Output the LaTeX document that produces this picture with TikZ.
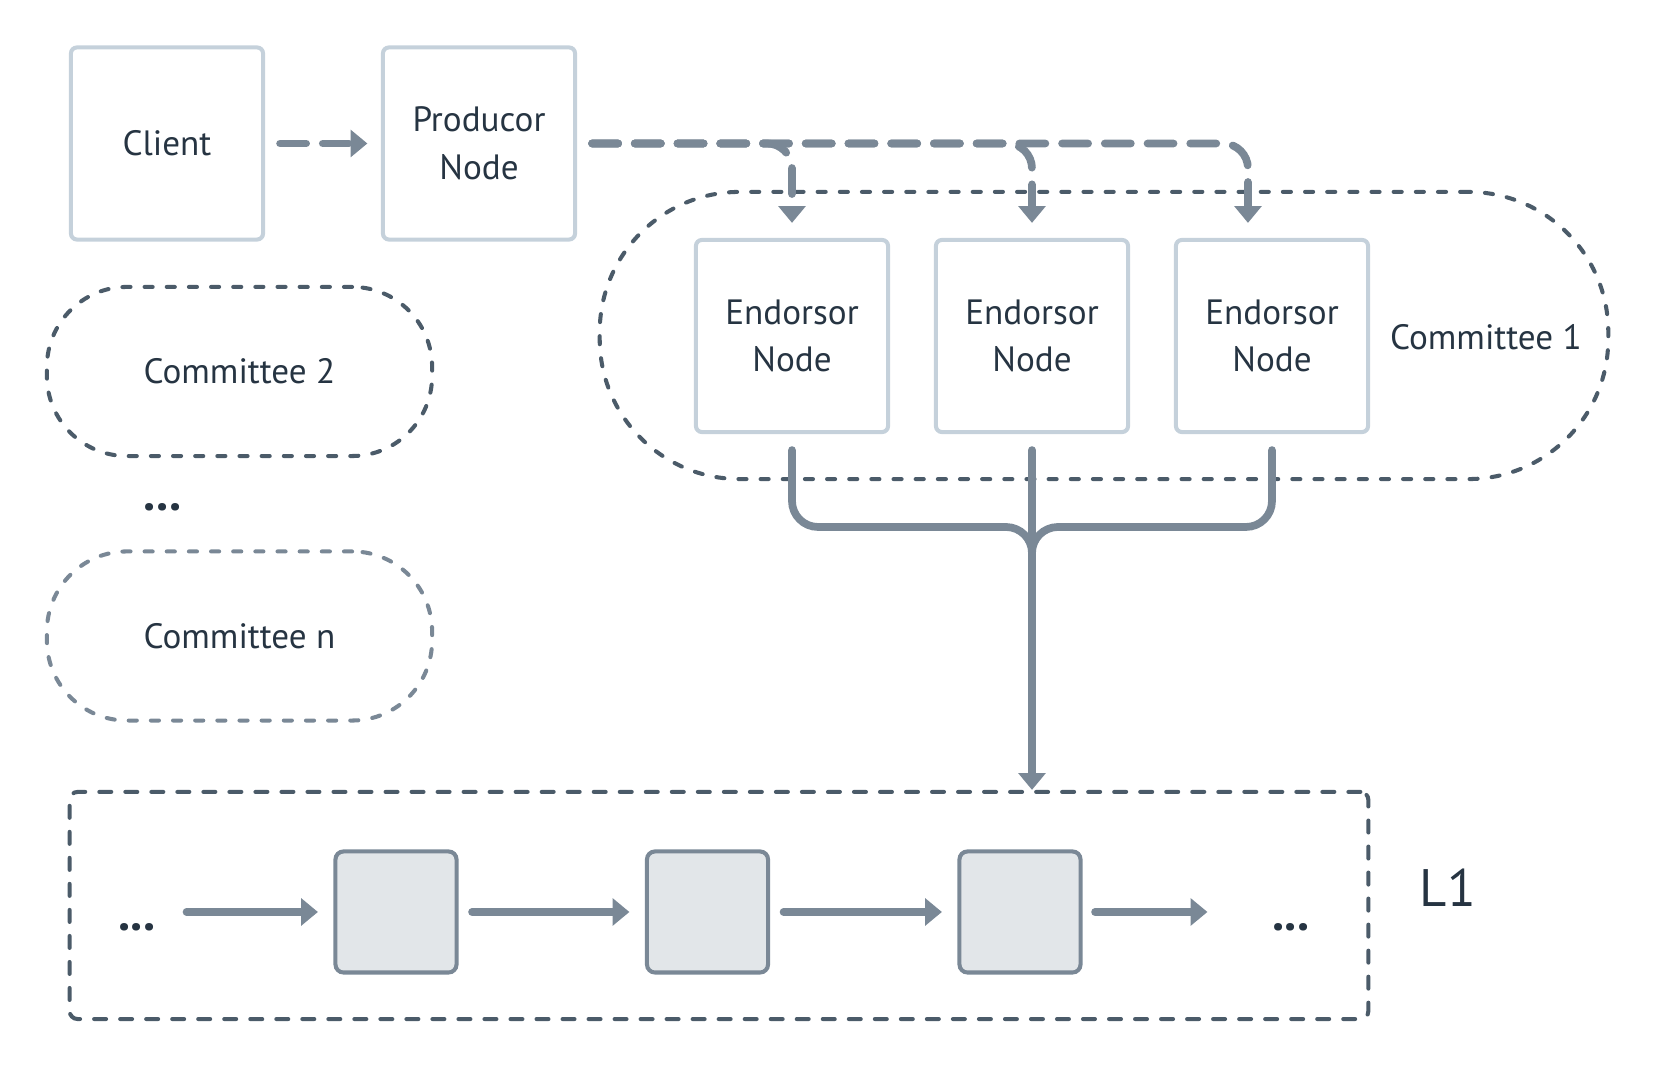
\documentclass[tikz,border=0pt]{standalone}
\usepackage{fontspec}
\setmainfont{PT Sans}
\newcommand*{\boxfont}{\fontsize{10}{13.6}\selectfont}
\definecolor{N}{HTML}{263442}
\definecolor{A}{HTML}{7A8896}
\definecolor{B}{HTML}{C5D1DB}
\definecolor{D}{HTML}{4B5B69}
\definecolor{F}{HTML}{E2E6E9}
\usetikzlibrary{arrows.meta}
\usetikzlibrary{positioning}
\tikzstyle{base}=[x=0.01cm, y=-0.01cm, line cap=round, text=N, font=\boxfont]
\tikzstyle{nodebox}=[draw=B, line width=1.15pt, rounded corners=0.06cm, minimum width=1.92cm, minimum height=1.92cm, align=center, inner sep=0pt]
\tikzstyle{committee}=[draw=D, line width=1.15pt, dash pattern=on 2.3pt off 4pt]
\tikzstyle{blockbox}=[draw=A, fill=F, line width=1.15pt, rounded corners=0.08cm, minimum width=1.21cm, minimum height=1.21cm, inner sep=0pt]
\tikzstyle{flow}=[draw=A, line width=2.2pt, -{Triangle[length=4.8pt, width=7.6pt]}]
\tikzstyle{dashflow}=[flow, dash pattern=on 7.4pt off 4.75pt, rounded corners=0.25cm]
\tikzstyle{mergeline}=[draw=A, line width=2.2pt, rounded corners=0.26cm]
\tikzstyle{dots}=[font=\fontsize{14}{14}\selectfont\bfseries, inner sep=0pt, anchor=base]

\begin{document}
\begin{tikzpicture}[base]
    \useasboundingbox (0,0) rectangle (1656,1068);
    \node [nodebox] (client) at (167,143.5) {Client};
    \node [nodebox] (prod) at (479,143.5) {Producor\\Node};
    \node [committee, rounded corners=1.4cm, minimum width=10.08cm, minimum height=2.87cm] (com1) at (1104,335.5) {};
    \node [nodebox] (e1) at (792,336) {Endorsor\\Node};
    \node [nodebox] (e2) at (1032,336) {Endorsor\\Node};
    \node [nodebox] (e3) at (1272,336) {Endorsor\\Node};
    \node (com1label) at (1486,337) {Committee 1};
    \node [committee, rounded corners=0.8cm, minimum width=3.85cm, minimum height=1.69cm] (com2) at (239.5,371.5) {Committee 2};
    \node [dots] (morecom) at (162.5,511) {...};
    \node [committee, draw=A, rounded corners=0.8cm, minimum width=3.85cm, minimum height=1.69cm] (comn) at (239.5,636) {Committee n};
    \node [committee, dash pattern=on 3.4pt off 4pt, rounded corners=0.08cm, minimum width=12.98cm, minimum height=2.27cm] (chain) at (719,905.5) {};
    \node [font=\fontsize{15}{15}\selectfont] (l1) at (1448,888) {L1};
    \node [blockbox] (b1) at (396,912) {};
    \node [blockbox] (b2) at (707.5,912) {};
    \node [blockbox] (b3) at (1020,912) {};
    \node [dots] (dotsL) at (137,931) {...};
    \node [dots] (dotsR) at (1291,931) {...};

    \draw [dashflow, shorten <=0.15cm, shorten >=0.135cm] (client) -- (prod);
    \coordinate (e3in) at ([xshift=-0.24cm]e3.north);
    \draw [dashflow, shorten <=0.15cm, shorten >=0.15cm] (prod.east) -| (e1.north);
    \draw [dashflow, shorten <=0.15cm, shorten >=0.15cm] (prod.east) -| (e2.north);
    \draw [dashflow, shorten <=0.15cm, shorten >=0.15cm] (prod.east) -| (e3in);

    \coordinate (bus) at (1032,527);
    \coordinate (drop) at (1032,640);
    \coordinate (chainin) at (e2.south |- chain.north);
    \draw [mergeline, shorten <=0.16cm] (e1.south) |- (bus) -- (drop);
    \draw [mergeline, shorten <=0.16cm] (e3.south) |- (bus) -- (drop);
    \draw [flow, shorten <=0.16cm] (e2.south) -- (chainin);

    \draw [flow, shorten <=0.3cm, shorten >=0.155cm] (dotsL.east |- b1.west) -- (b1.west);
    \draw [flow, shorten <=0.135cm, shorten >=0.155cm] (b1) -- (b2);
    \draw [flow, shorten <=0.135cm, shorten >=0.155cm] (b2) -- (b3);
    \draw [flow, shorten <=0.125cm, shorten >=0.64cm] (b3.east) -- (b3.east -| dotsR.west);
\end{tikzpicture}
\end{document}
